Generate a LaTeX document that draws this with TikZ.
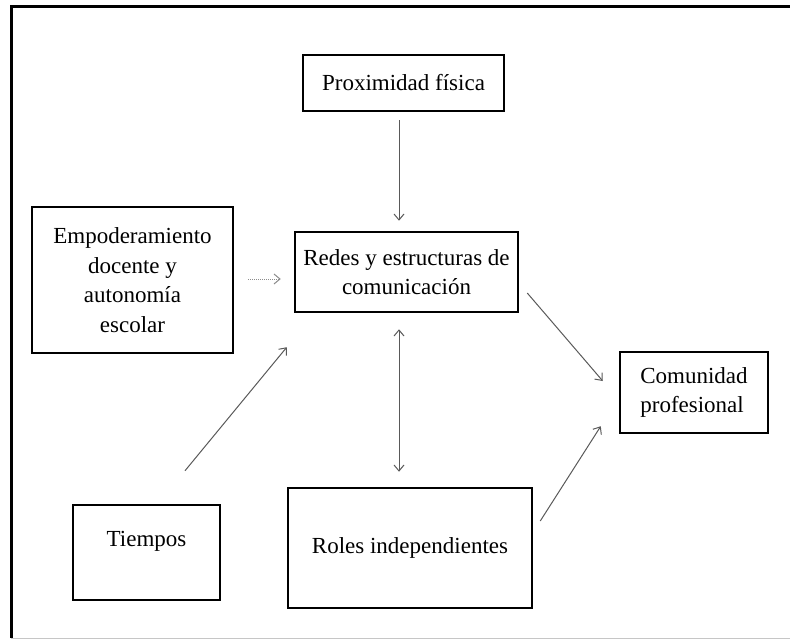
\documentclass[tikz,border=0pt]{standalone}
\usepackage{fontspec}
\setmainfont{Liberation Serif}
\usetikzlibrary{positioning}
\usetikzlibrary{arrows.meta}

\tikzset{
  txt/.style={font=\fontsize{23}{29.5}\selectfont},
  box/.style={txt, draw=black, line width=2.5pt, inner sep=0pt, align=center},
  arr/.style={->, >={Straight Barb[length=6pt,width=10pt]}, line width=1pt, draw=black!65}
}

\begin{document}
\begin{tikzpicture}[x=1pt,y=-1pt]

\useasboundingbox (0,0) rectangle (790,639);

% frame
\draw[line width=3pt] (790,7)--(11,7)--(11,638);
\draw[gray!45, line width=1pt] (11,638)--(790,638);

\node[box, minimum width=201pt, minimum height=56pt] (prox) at (403.5,83) {Proximidad física};
\node[box, minimum width=201pt, minimum height=146pt] (empo) at (132.5,280) {Empoderamiento\\docente y\\autonomía\\escolar};
\node[box, minimum width=223pt, minimum height=80pt] (redes) at (406.5,272) {Redes y estructuras de\\comunicación};
\node[box, align=left, minimum width=148pt, minimum height=81pt] (comu) at (694,392.5) {Comunidad\\profesional};
\node[box, minimum width=147pt, minimum height=95pt, label={[txt, yshift=11.5pt]center:Tiempos}] (tiem) at (146.5,552.5) {};
\node[box, minimum width=244pt, minimum height=120pt] (roles) at (410,548) {Roles independientes};

%arrows
\draw[arr, shorten <=8pt, shorten >=10pt] ([xshift=-4.5]prox.south) -- ([xshift=-4.5]prox.south |- redes.north);
\draw[arr, densely dotted, draw=black!45, shorten <=14pt, shorten >=13pt] ([yshift=1]empo.east) -- ([yshift=1]empo.east -| redes.west);
\draw[arr, <->, shorten <=16pt, shorten >=15pt] ([xshift=-7.5]redes.south) -- ([xshift=-7.5]redes.south |- roles.north);
\draw[arr] ([shift={(38.5,-33)}]tiem.north) -- ([shift={(-7,34)}]redes.south west);
\draw[arr] ([shift={(8,21)}]redes.east) -- ([shift={(-16,-11.5)}]comu.west);
\draw[arr] ([shift={(7,-27)}]roles.east) -- ([shift={(-18,-8)}]comu.south west);

\end{tikzpicture}
\end{document}
